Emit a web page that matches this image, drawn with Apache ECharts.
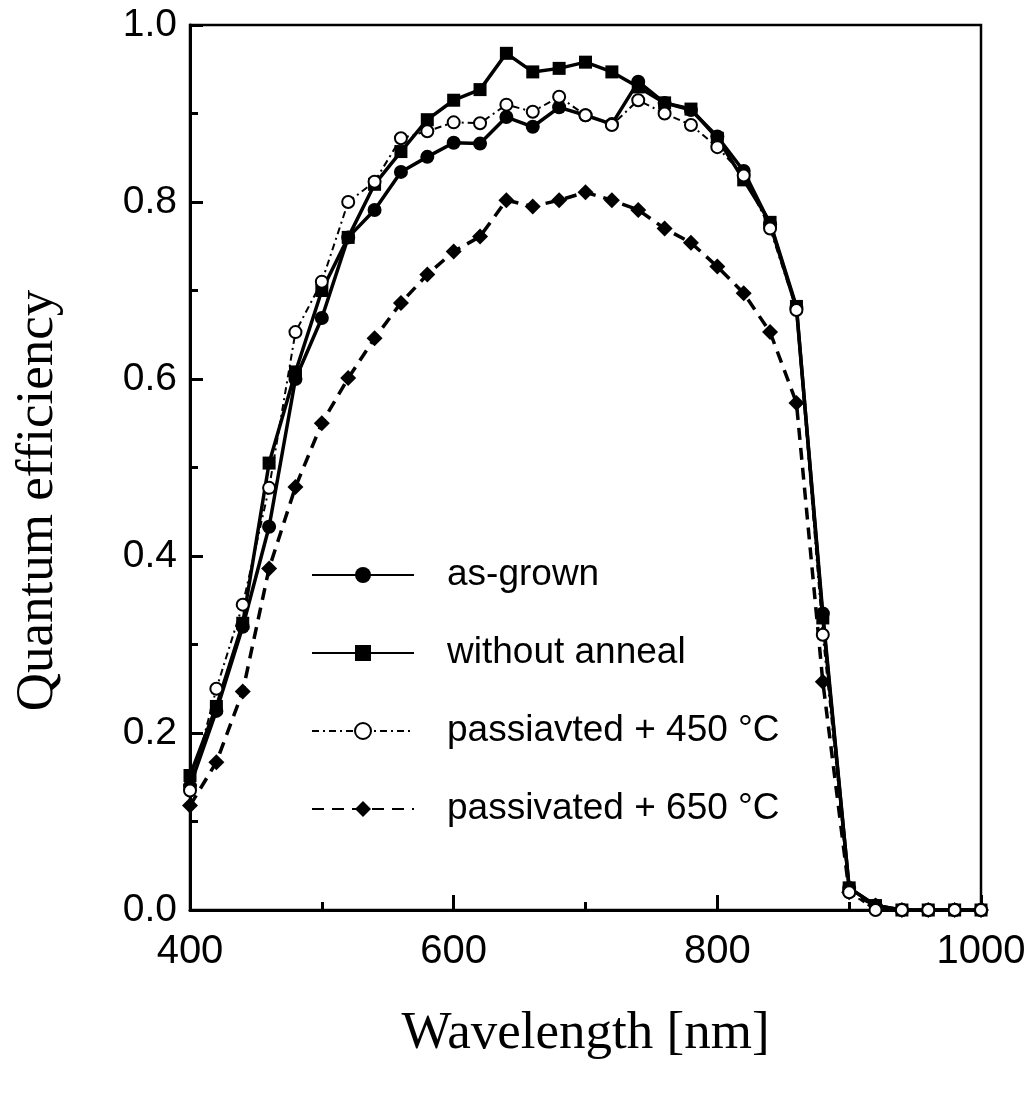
<!DOCTYPE html>
<html>
<head>
<meta charset="utf-8">
<script src="https://cdn.jsdelivr.net/npm/echarts@6/dist/echarts.min.js"></script>
<style>
html,body{margin:0;padding:0;background:#fff;}
#chart{width:1034px;height:1093px;}
</style>
</head>
<body>
<div id="chart"></div>
<script>
const wavelength = [400,420,440,460,480,500,520,540,560,580,600,620,640,660,680,700,720,740,760,780,800,820,840,860,880,900,920,940,960,980,1000];
const asGrown = [0.14,0.225,0.32,0.433,0.60,0.669,0.76,0.791,0.834,0.851,0.867,0.866,0.896,0.885,0.907,0.898,0.888,0.936,0.912,0.904,0.874,0.835,0.775,0.68,0.335,0.025,0.005,0,0,0,0];
const withoutAnneal = [0.152,0.23,0.324,0.505,0.608,0.70,0.76,0.82,0.857,0.893,0.915,0.927,0.968,0.947,0.951,0.958,0.947,0.93,0.912,0.905,0.872,0.825,0.777,0.682,0.33,0.025,0.005,0,0,0,0];
const passivated450 = [0.135,0.25,0.345,0.477,0.653,0.71,0.80,0.823,0.872,0.88,0.89,0.889,0.91,0.902,0.919,0.898,0.887,0.915,0.90,0.887,0.862,0.83,0.77,0.678,0.311,0.02,0.0,0,0,0,0];
const passivated650 = [0.118,0.167,0.247,0.386,0.478,0.55,0.601,0.646,0.686,0.718,0.744,0.761,0.802,0.795,0.802,0.811,0.802,0.791,0.77,0.754,0.727,0.697,0.653,0.573,0.258,0.02,0.005,0,0,0,0];
const seriesNames = ['as-grown','without anneal','passiavted + 450 \u00B0C','passivated + 650 \u00B0C'];

function pairs(ys){ return wavelength.map((x,i)=>[x, ys[i]]); }

const chart = echarts.init(document.getElementById('chart'), null, {renderer:'canvas'});
const sans = '"Liberation Sans", Arial, Helvetica, sans-serif';
const serif = '"Liberation Serif", "Times New Roman", serif';
chart.setOption({
  animation:false,
  backgroundColor:'#fff',
  grid:{left:190, top:25, right:53, bottom:183, show:true, borderColor:'#000', borderWidth:2.5, backgroundColor:'transparent'},
  legend:{
    orient:'vertical', left:306, top:550, itemGap:38, itemWidth:102, itemHeight:20,
    data:seriesNames,
    textStyle:{fontFamily:sans, fontSize:37, color:'#000', lineHeight:40, padding:[0,0,0,28]}
  },
  xAxis:{
    type:'value', min:400, max:1000, interval:200,
    name:'Wavelength [nm]', nameLocation:'middle', nameGap:98,
    nameTextStyle:{fontFamily:serif, fontSize:53, color:'#000'},
    axisLine:{show:true, lineStyle:{color:'#000', width:3}},
    axisTick:{show:true, inside:true, length:15, lineStyle:{color:'#000', width:3}},
    minorTick:{show:true, splitNumber:2, length:8, lineStyle:{color:'#000', width:3}},
    axisLabel:{fontFamily:sans, fontSize:40, color:'#000', margin:22, formatter:v=>String(v)},
    splitLine:{show:false}
  },
  yAxis:{
    type:'value', min:0, max:1, interval:0.2,
    name:'Quantum efficiency', nameLocation:'middle', nameGap:125,
    nameTextStyle:{fontFamily:serif, fontSize:53, color:'#000', padding:[0,66,0,0]},
    axisLine:{show:true, lineStyle:{color:'#000', width:3}},
    axisTick:{show:true, inside:true, length:13, lineStyle:{color:'#000', width:3}},
    minorTick:{show:true, splitNumber:2, length:8, lineStyle:{color:'#000', width:3}},
    axisLabel:{fontFamily:sans, fontSize:39, color:'#000', margin:13, formatter:v=>v.toFixed(1)},
    splitLine:{show:false}
  },
  series:[
    {name:seriesNames[3], type:'line', data:pairs(passivated650), z:2,
     symbol:'diamond', symbolSize:16, itemStyle:{color:'#000'},
     lineStyle:{color:'#000', width:3.5, type:[12,8]}},
    {name:seriesNames[1], type:'line', data:pairs(withoutAnneal), z:3,
     symbol:'rect', symbolSize:13, itemStyle:{color:'#000'},
     lineStyle:{color:'#000', width:3.5}},
    {name:seriesNames[0], type:'line', data:pairs(asGrown), z:4,
     symbol:'circle', symbolSize:14, itemStyle:{color:'#000'},
     lineStyle:{color:'#000', width:3.5}},
    {name:seriesNames[2], type:'line', data:pairs(passivated450), z:5,
     symbol:'emptyCircle', symbolSize:12, itemStyle:{color:'#000', borderColor:'#000', borderWidth:2.5},
     lineStyle:{color:'#000', width:2, type:[7,4,2,4]}}
  ]
});
</script>
</body>
</html>
